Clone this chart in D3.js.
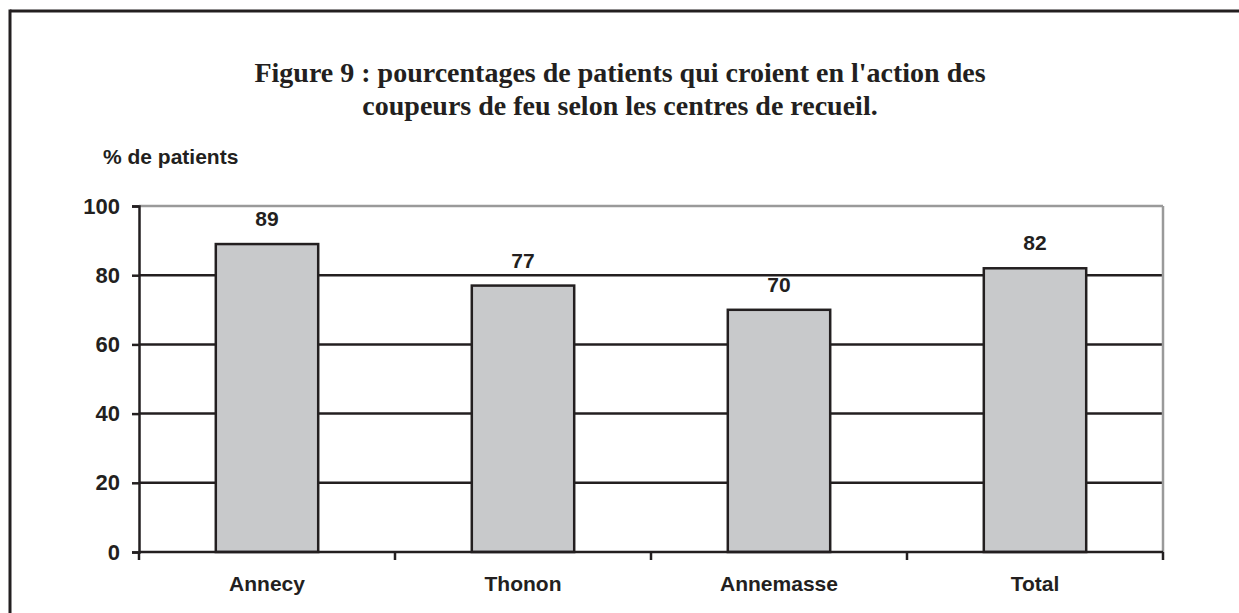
<!DOCTYPE html>
<html>
<head>
<meta charset="utf-8">
<script src="https://cdn.jsdelivr.net/npm/d3@7"></script>
<style>
  body { margin: 0; background: #fff; overflow: hidden; }
  svg { display: block; }
</style>
</head>
<body>
<svg id="chart" width="1239" height="613"></svg>
<script>
// chart data
var centres = ["Annecy", "Thonon", "Annemasse", "Total"];
var pourcentages = [89, 77, 70, 82];
var yTicks = [0, 20, 40, 60, 80, 100];
var titleLines = [
    "Figure 9 : pourcentages de patients qui croient en l'action des",
    "coupeurs de feu selon les centres de recueil."
];
var yTitle = "% de patients";

var svg = d3.select("#chart");
var ink = "#231f20";

// outer frame : only the left and top edges fall inside the picture
svg.append("line")
    .attr("x1", 10).attr("x2", 1239)
    .attr("y1", 11).attr("y2", 11)
    .attr("stroke", ink).attr("stroke-width", 3);
svg.append("line")
    .attr("x1", 10).attr("x2", 10)
    .attr("y1", 9.5).attr("y2", 613)
    .attr("stroke", ink).attr("stroke-width", 3);

// title
svg.append("text")
    .attr("text-anchor", "middle")
    .attr("font-family", "'Liberation Serif', 'Times New Roman', serif")
    .attr("font-weight", "bold")
    .attr("font-size", 28)
    .attr("fill", ink)
    .selectAll("tspan")
    .data(titleLines)
    .enter()
    .append("tspan")
    .attr("x", 620)
    .attr("y", function (d, i) { return 82 + i * 33; })
    .text(function (d) { return d; });

var margin = { left: 139, right: 1163, top: 206, bottom: 552 };

var x = d3.scaleBand()
    .domain(centres)
    .range([margin.left, margin.right])
    .padding(0);

var y = d3.scaleLinear()
    .domain([0, 100])
    .range([margin.bottom, margin.top]);

var font = "'Liberation Sans', Arial, sans-serif";

// gridlines
svg.append("g")
    .selectAll("line")
    .data(yTicks.filter(function (d) { return d > 0; }))
    .enter()
    .append("line")
    .attr("x1", margin.left).attr("x2", margin.right)
    .attr("y1", function (d) { return y(d); })
    .attr("y2", function (d) { return y(d); })
    .attr("stroke", function (d) { return d === 100 ? "#9a9a9a" : ink; })
    .attr("stroke-width", 2.5);

// right border (grey)
svg.append("line")
    .attr("x1", margin.right).attr("x2", margin.right)
    .attr("y1", y(100)).attr("y2", y(0))
    .attr("stroke", "#9a9a9a")
    .attr("stroke-width", 2.5);

// bars
var barW = x.bandwidth() * 0.4;
svg.append("g")
    .selectAll("rect")
    .data(pourcentages)
    .enter()
    .append("rect")
    .attr("x", function (d, i) { return x(centres[i]) + (x.bandwidth() - barW) / 2; })
    .attr("y", function (d) { return y(d); })
    .attr("width", barW)
    .attr("height", function (d) { return y(0) - y(d); })
    .attr("fill", "#c8c9cb")
    .attr("stroke", ink)
    .attr("stroke-width", 2.5);

// value labels
svg.append("g")
    .selectAll("text")
    .data(pourcentages)
    .enter()
    .append("text")
    .attr("x", function (d, i) { return x(centres[i]) + x.bandwidth() / 2; })
    .attr("y", function (d) { return y(d) - 18; })
    .attr("text-anchor", "middle")
    .attr("font-family", font)
    .attr("font-weight", "bold")
    .attr("font-size", 21)
    .attr("fill", ink)
    .text(function (d) { return d; });

// Y axis
var yAxis = svg.append("g")
    .attr("transform", "translate(" + margin.left + ",0)")
    .call(d3.axisLeft(y).tickValues(yTicks).tickSize(7).tickPadding(12));
yAxis.select(".domain").attr("stroke", ink).attr("stroke-width", 2.5);
yAxis.selectAll(".tick line").attr("stroke", ink).attr("stroke-width", 2.5);
yAxis.selectAll(".tick text")
    .attr("font-family", font)
    .attr("font-weight", "bold")
    .attr("font-size", 22)
    .attr("fill", ink);

// X axis (ticks at category boundaries)
var xAxis = svg.append("g")
    .attr("transform", "translate(0," + margin.bottom + ")");
xAxis.append("line")
    .attr("x1", margin.left).attr("x2", margin.right)
    .attr("stroke", ink).attr("stroke-width", 2.5);
xAxis.selectAll(".bound")
    .data(centres.map(function (c) { return x(c); }).concat([margin.right]))
    .enter()
    .append("line")
    .attr("class", "bound")
    .attr("x1", function (d) { return d; })
    .attr("x2", function (d) { return d; })
    .attr("y1", 0).attr("y2", 8)
    .attr("stroke", ink).attr("stroke-width", 2.5);
xAxis.selectAll("text")
    .data(centres)
    .enter()
    .append("text")
    .attr("x", function (d) { return x(d) + x.bandwidth() / 2; })
    .attr("y", 39)
    .attr("text-anchor", "middle")
    .attr("font-family", font)
    .attr("font-weight", "bold")
    .attr("font-size", 21)
    .attr("fill", ink)
    .text(function (d) { return d; });

// y axis title
svg.append("text")
    .attr("x", 103)
    .attr("y", 164)
    .attr("font-family", font)
    .attr("font-weight", "bold")
    .attr("font-size", 21)
    .attr("fill", ink)
    .text(yTitle);
</script>
</body>
</html>
